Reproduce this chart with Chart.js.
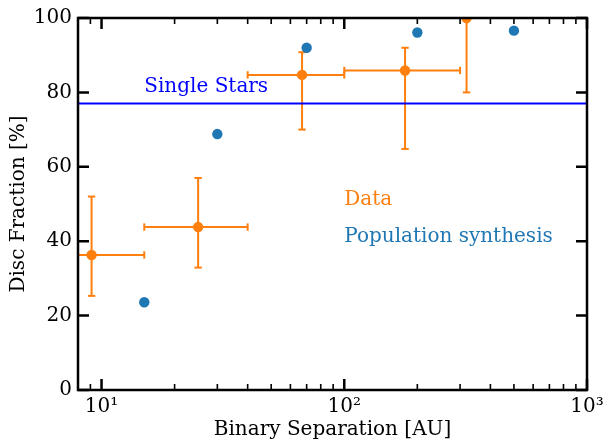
<!DOCTYPE html>
<html>
<head>
<meta charset="utf-8">
<script src="https://cdn.jsdelivr.net/npm/chart.js@4.4.1/dist/chart.umd.min.js"></script>
<style>
html, body { margin: 0; padding: 0; background: #fff; }
</style>
</head>
<body>
<canvas id="Chart" width="606" height="439"></canvas>
<script>
// observed disc fractions (orange, with error bars)
const dataSep = [9.1, 25, 67, 178, 319];
const dataFrac = [36.3, 43.8, 84.7, 85.9, 100];
const dataFracLow = [25.3, 32.9, 70.0, 64.8, 80.0];
const dataFracHigh = [52.0, 57.0, 90.8, 92.0, 100];
const dataSepLow = [5, 15, 40, 100, null];
const dataSepHigh = [15, 40, 100, 300, null];

// population synthesis (blue dots)
const synthSep = [15, 30, 70, 200, 500];
const synthFrac = [23.6, 68.8, 92.0, 96.1, 96.6];

// single star disc fraction
const singleStars = 77;

// axes
const xMin = 8, xMax = 1000;
const xTicks = [10, 100, 1000];
const xTickLabels = ['10\u00b9', '10\u00b2', '10\u00b3'];
const yTicks = [0, 20, 40, 60, 80, 100];

// text labels inside the plot (data coordinates)
const noteText = ['Single Stars', 'Data', 'Population synthesis'];
const noteX = [15, 100, 100];
const noteY = [80, 49.8, 39.8];
const noteColor = ['#0000ff', '#ff7f0e', '#1f77b4'];

const orange = '#ff7f0e';
const blue = '#1f77b4';

Chart.defaults.font.family = '"DejaVu Serif"';
Chart.defaults.font.size = 20;
Chart.defaults.color = '#000';

const datasets = [];

// horizontal line for single stars
datasets.push({
	data: [{ x: xMin, y: singleStars }, { x: xMax, y: singleStars }],
	showLine: true,
	borderColor: '#0000ff',
	borderWidth: 2,
	pointRadius: 0,
	order: 0,
	clip: 0,
});

// error bars
for (let i = 0; i < dataSep.length; i++) {
	datasets.push({
		data: [{ x: dataSep[i], y: dataFracLow[i] }, { x: dataSep[i], y: dataFracHigh[i] }],
		showLine: true,
		borderColor: orange,
		borderWidth: 2,
		pointStyle: 'line',
		pointRadius: 3.7,
		pointBorderWidth: 2,
		pointBorderColor: orange,
		pointRotation: 0,
		order: 3,
		clip: 0,
	});
	if (dataSepLow[i] !== null) {
		datasets.push({
			data: [{ x: dataSepLow[i], y: dataFrac[i] }, { x: dataSepHigh[i], y: dataFrac[i] }],
			showLine: true,
			borderColor: orange,
			borderWidth: 2,
			pointStyle: 'line',
			pointRadius: 3.7,
			pointBorderWidth: 2,
			pointBorderColor: orange,
			pointRotation: 90,
			order: 3,
			clip: 0,
		});
	}
}

// data points
datasets.push({
	data: dataSep.map((x, i) => ({ x: x, y: dataFrac[i] })),
	pointRadius: 5.2,
	pointBackgroundColor: orange,
	pointBorderWidth: 0,
	order: 2,
	clip: 0,
});

// population synthesis points
datasets.push({
	data: synthSep.map((x, i) => ({ x: x, y: synthFrac[i] })),
	pointRadius: 5.2,
	pointBackgroundColor: blue,
	pointBorderWidth: 0,
	order: 2,
	clip: 0,
});

// minor ticks of the log axis
const minorTicks = [];
for (let d = 1; d < xMax; d *= 10) {
	for (let m = 2; m <= 9; m++) {
		const v = m * d;
		if (v >= xMin && v <= xMax) minorTicks.push(v);
	}
}

// frame, inward ticks and the text labels
const framePlugin = {
	id: 'frame',
	afterDatasetsDraw(chart) {
		const { ctx, chartArea: a, scales: { x, y } } = chart;
		ctx.save();
		ctx.strokeStyle = '#000';

		ctx.lineWidth = 1.6;
		ctx.beginPath();
		for (const v of minorTicks) {
			const px = x.getPixelForValue(v);
			ctx.moveTo(px, a.bottom); ctx.lineTo(px, a.bottom - 6);
			ctx.moveTo(px, a.top); ctx.lineTo(px, a.top + 6);
		}
		ctx.stroke();

		ctx.lineWidth = 2.5;
		ctx.beginPath();
		for (const v of xTicks) {
			const px = x.getPixelForValue(v);
			ctx.moveTo(px, a.bottom); ctx.lineTo(px, a.bottom - 11);
			ctx.moveTo(px, a.top); ctx.lineTo(px, a.top + 11);
		}
		for (const v of yTicks) {
			const py = y.getPixelForValue(v);
			ctx.moveTo(a.left, py); ctx.lineTo(a.left + 11, py);
			ctx.moveTo(a.right, py); ctx.lineTo(a.right - 11, py);
		}
		ctx.stroke();

		ctx.strokeRect(a.left, a.top, a.right - a.left, a.bottom - a.top);

		ctx.font = '20px "DejaVu Serif"';
		ctx.textAlign = 'left';
		ctx.textBaseline = 'alphabetic';
		for (let i = 0; i < noteText.length; i++) {
			ctx.fillStyle = noteColor[i];
			ctx.fillText(noteText[i], x.getPixelForValue(noteX[i]), y.getPixelForValue(noteY[i]));
		}
		ctx.restore();
	}
};

new Chart(document.getElementById('Chart'), {
	type: 'scatter',
	data: { datasets: datasets },
	options: {
		responsive: false,
		animation: false,
		events: [],
		layout: { autoPadding: false, padding: { top: 18, right: 19, left: 0, bottom: 0 } },
		plugins: { legend: { display: false }, tooltip: { enabled: false } },
		scales: {
			x: {
				type: 'logarithmic',
				min: xMin,
				max: xMax,
				grid: { display: false, drawTicks: false },
				border: { display: false },
				ticks: {
					padding: 5,
					autoSkip: false,
					maxRotation: 0,
					callback: (v) => {
						const k = xTicks.indexOf(v);
						return k < 0 ? '' : xTickLabels[k];
					}
				},
				afterBuildTicks: (s) => { s.ticks = xTicks.map(v => ({ value: v })); },
				afterFit: (s) => { s.height = 49; s.paddingLeft = 0; s.paddingRight = 0; },
				title: { display: true, text: 'Binary Separation [AU]', padding: { top: 0, bottom: -3 } }
			},
			y: {
				min: 0,
				max: 100,
				grid: { display: false, drawTicks: false },
				border: { display: false },
				ticks: { stepSize: 20, padding: 6 },
				afterFit: (s) => { s.width = 78; s.paddingTop = 0; s.paddingBottom = 0; },
				title: { display: true, text: 'Disc Fraction [%]', padding: { top: 7, bottom: 0 } }
			}
		}
	},
	plugins: [framePlugin]
});
</script>
</body>
</html>
